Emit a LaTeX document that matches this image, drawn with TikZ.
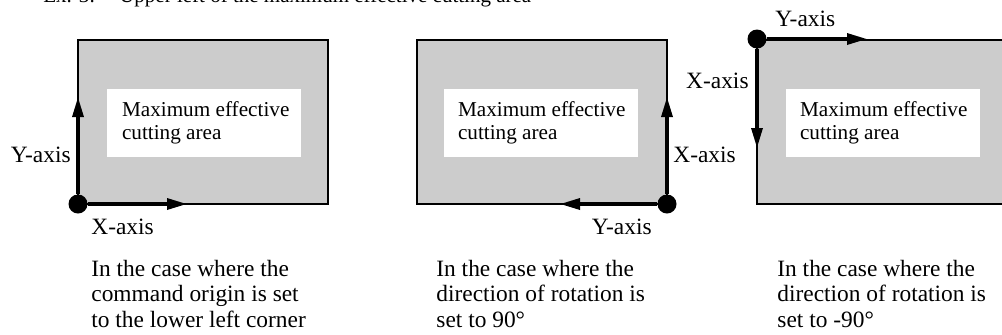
\documentclass[tikz,border=0pt]{standalone}
\usepackage{fontspec}
\setmainfont{Liberation Serif}
\usetikzlibrary{arrows.meta}
\definecolor{areagray}{HTML}{CCCCCC}
\tikzset{
  area/.style={draw=black, fill=areagray, line width=1pt, minimum width=125pt, minimum height=82pt, inner sep=0pt},
  inbox/.style={fill=white, minimum width=97pt, minimum height=34pt, inner sep=0pt},
  intext/.style={inner sep=0pt, align=left, anchor=west, font=\fontsize{10.6}{11.5}\selectfont},
  origin/.style={circle, fill=black, minimum size=9.5pt, inner sep=0pt},
  axis/.style={line width=1.6pt, -{Triangle[length=10pt,width=5.5pt]}},
  lbl/.style={inner sep=0pt},
  caption/.style={inner sep=0pt, align=left, anchor=north west, font=\fontsize{11.7}{12.6}\selectfont},
}
\begin{document}
\begin{tikzpicture}[x=0.5pt, y=-0.5pt, font=\fontsize{11.7}{12.6}\selectfont]
\useasboundingbox (0,0) rectangle (1002,334);
\begin{scope}
\clip (0,0) rectangle (1002,334);
\fill[white] (0,0) rectangle (1002,334);
% top (clipped) heading
\node[lbl, anchor=base west, font=\fontsize{10.5}{12}\selectfont] (head) at (43,2) {Ex. 3:\hspace{12pt}Upper left of the maximum effective cutting area};

% ---- panel 1
\node[area] (r1) at (203,122) {};
\node[inbox] (b1) at (204,123) {};
\node[intext] (t1) at ([xshift=7.5pt]b1.west) {Maximum effective\\cutting area};
\node[origin] (o1) at (78,204) {};
\coordinate (y1) at (78,97);
\coordinate (x1) at (187,204);
\draw[axis] (o1) -- (y1);
\draw[axis] (o1) -- (x1);
\node[lbl, anchor=base east] (ly1) at (71,162) {Y-axis};
\node[lbl, anchor=base west] (lx1) at (91,234) {X-axis};
\node[caption] (c1) at (91,260) {In the case where the\\command origin is set\\to the lower left corner};

% ---- panel 2
\node[area] (r2) at (542,122) {};
\node[inbox] (b2) at (541,123) {};
\node[intext] (t2) at ([xshift=7pt]b2.west) {Maximum effective\\cutting area};
\node[origin] (o2) at (667,204) {};
\coordinate (y2) at (560,204);
\coordinate (x2) at (667,97);
\draw[axis] (o2) -- (y2);
\draw[axis] (o2) -- (x2);
\node[lbl, anchor=base west] (lx2) at (673,162) {X-axis};
\node[lbl, anchor=base east] (ly2) at (652,234) {Y-axis};
\node[caption] (c2) at (436,260) {In the case where the\\direction of rotation is\\set to 90°};

% ---- panel 3
\node[area] (r3) at (882,121.5) {};
\node[inbox] (b3) at (883,123) {};
\node[intext] (t3) at ([xshift=7pt]b3.west) {Maximum effective\\cutting area};
\node[origin] (o3) at (757,39) {};
\coordinate (y3) at (867,39);
\coordinate (x3) at (757,148);
\draw[axis] (o3) -- (y3);
\draw[axis] (o3) -- (x3);
\node[lbl, anchor=base west] (ly3) at (775,26) {Y-axis};
\node[lbl, anchor=base east] (lx3) at (749,88) {X-axis};
\node[caption] (c3) at (777,260) {In the case where the\\direction of rotation is\\set to -90°};
\end{scope}
\end{tikzpicture}
\end{document}
